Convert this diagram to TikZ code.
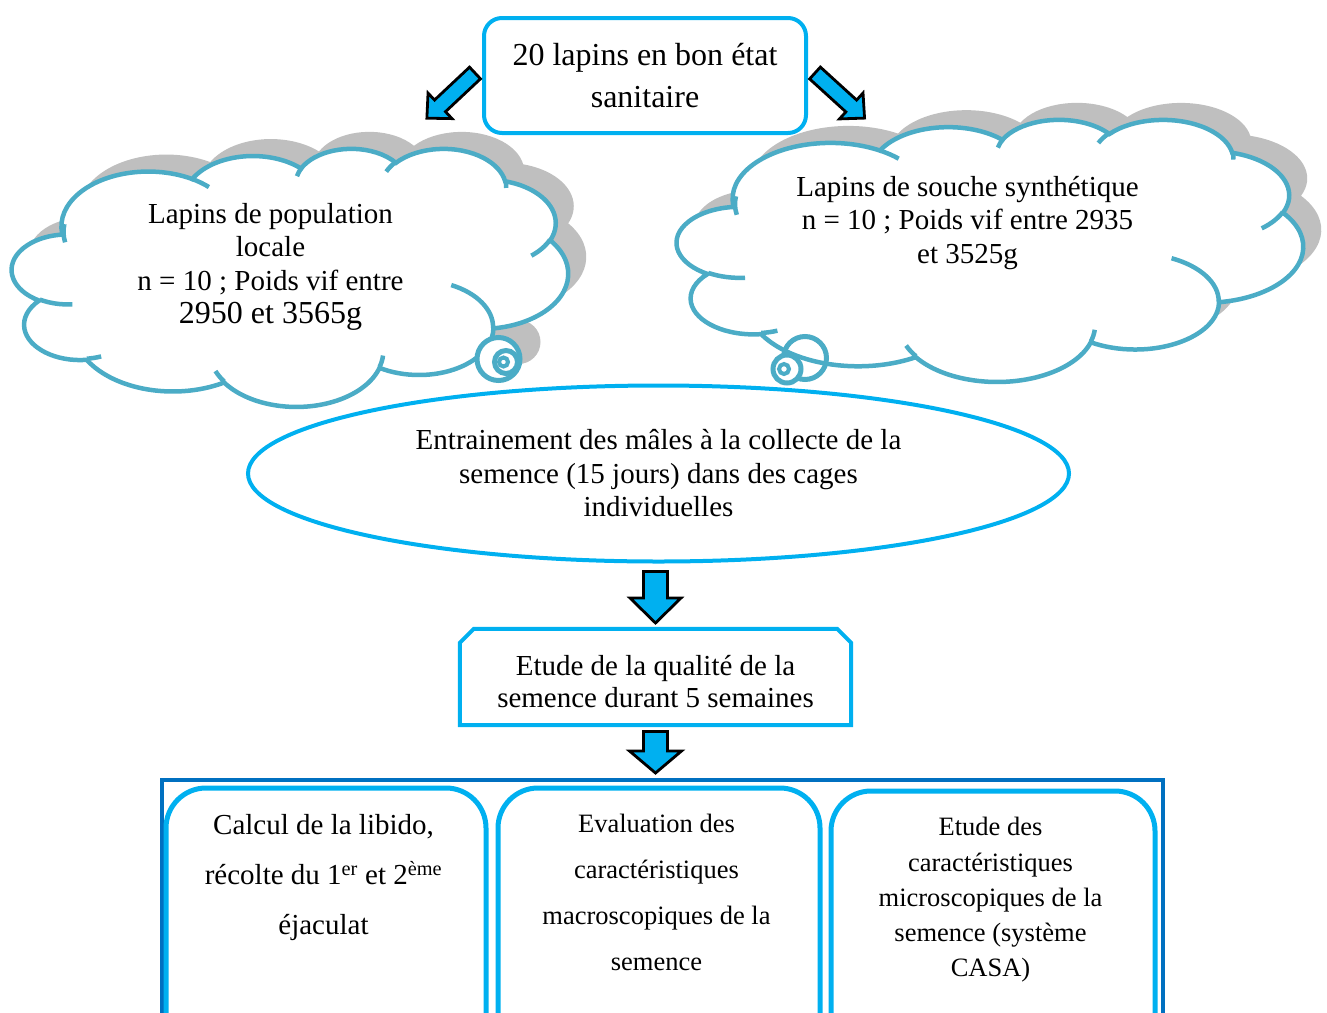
\documentclass[tikz,border=0pt]{standalone}
\usepackage{fontspec}
\setmainfont{Liberation Serif}
\usetikzlibrary{calc,shapes.geometric}
\definecolor{boxc}{HTML}{00B0F0}
\definecolor{cloudc}{HTML}{4BACC6}
\definecolor{dkblue}{HTML}{0070C0}
\definecolor{shadowc}{HTML}{BFBFBF}

% Word "cloud" outline, path space 4320 x 4320 (y down)
\newcommand\cloudmain[1]{%
\path[#1] (390,1437)
 arc[x radius=675.3, y radius=919.0, start angle={vang(-190.4875,675.3,919.0)}, end angle={vang(-66.7070,675.3,919.0)}]
 arc[x radius=533.3, y radius=726.7, start angle={vang(-144.1024,533.3,726.7)}, end angle={vang(-54.1572,533.3,726.7)}]
 arc[x radius=436.5, y radius=594.5, start angle={vang(-145.8079,436.5,594.5)}, end angle={vang(-46.0849,436.5,594.5)}]
 arc[x radius=485.7, y radius=659.5, start angle={vang(-130.9861,485.7,659.5)}, end angle={vang(-13.7444,485.7,659.5)}]
 arc[x radius=533.3, y radius=727.3, start angle={vang(-78.7089,533.3,727.3)}, end angle={vang(30.3180,533.3,727.3)}]
 arc[x radius=677.5, y radius=922.0, start angle={vang(-46.2673,677.5,922.0)}, end angle={vang(84.0017,677.5,922.0)}]
 arc[x radius=578.5, y radius=786.7, start angle={vang(0.6250,578.5,786.7)}, end angle={vang(114.6583,578.5,786.7)}]
 arc[x radius=675.2, y radius=921.5, start angle={vang(22.4516,675.2,921.5)}, end angle={vang(137.6242,675.2,921.5)}]
 arc[x radius=772.0, y radius=1054.3, start angle={vang(66.2426,772.0,1054.3)}, end angle={vang(141.9536,772.0,1054.3)}]
 arc[x radius=436.0, y radius=591.8, start angle={vang(-274.9421,436.0,591.8)}, end angle={vang(-128.2065,436.0,591.8)}]
 arc[x radius=434.5, y radius=594.5, start angle={vang(-246.8285,434.5,594.5)}, end angle={vang(-94.3096,434.5,594.5)}]
 -- cycle;}

\newcommand\cloudinner[1]{%
\path[#1]
 (469.3,2617.7) arc[x radius=434.5, y radius=594.5, start angle={vang(86.742,434.5,594.5)}, end angle={vang(113.1715,434.5,594.5)}]
 (692.8,3489.9) arc[x radius=436.0, y radius=591.8, start angle={vang(73.6105,436.0,591.8)}, end angle={vang(85.058,436.0,591.8)}]
 (1647.8,3909.0) arc[x radius=675.2, y radius=921.5, start angle={vang(137.6242,675.2,921.5)}, end angle={vang(151.7053,675.2,921.5)}]
 (2882.7,3475.1) arc[x radius=675.2, y radius=921.5, start angle={vang(6.4533,675.2,921.5)}, end angle={vang(22.4517,675.2,921.5)}]
 (3412.9,2295.4) arc[x radius=578.5, y radius=786.7, start angle={vang(-70.2924,578.5,786.7)}, end angle={vang(0.625,578.5,786.7)}]
 (4179.8,1535.4) arc[x radius=533.3, y radius=727.3, start angle={vang(30.318,533.3,727.3)}, end angle={vang(58.0695,533.3,727.3)}]
 (3832.4,542.6) arc[x radius=485.7, y radius=659.5, start angle={vang(-13.7443,485.7,659.5)}, end angle={vang(1.1146,485.7,659.5)}]
 (2907.8,395.2) arc[x radius=485.7, y radius=659.5, start angle={vang(-149.1815,485.7,659.5)}, end angle={vang(-130.9861,485.7,659.5)}]
 (2214.1,472.0) arc[x radius=436.5, y radius=594.5, start angle={vang(-163.4943,436.5,594.5)}, end angle={vang(-145.8079,436.5,594.5)}]
 (1400.0,519.2) arc[x radius=675.3, y radius=919.0, start angle={vang(-66.707,675.3,919.0)}, end angle={vang(-54.3876,675.3,919.0)}]
 (412.7,1578.9) arc[x radius=675.3, y radius=919.0, start angle={vang(165.0894,675.3,919.0)}, end angle={vang(190.7728,675.3,919.0)}];}

% block arrow: x y angle length shafthalf headhalf headlength
\newcommand\blockarrow[7]{%
\begin{scope}[shift={(#1,#2)},rotate=#3]
\draw[barrow] (0,-#5) -- ({#4-#7},-#5) -- ({#4-#7},-#6) -- (#4,0) -- ({#4-#7},#6) -- ({#4-#7},#5) -- (0,#5) -- cycle;
\end{scope}}

\begin{document}
\begin{tikzpicture}[x=1pt,y=-1pt,
  declare function={vang(\vt,\va,\vb)=\vt+(atan2(\va*sin(\vt),\vb*cos(\vt))-\vt)-360*round((atan2(\va*sin(\vt),\vb*cos(\vt))-\vt)/360);},
  cloudline/.style={draw=cloudc,line width=4.5pt},
  bubble/.style={draw=cloudc,line width=5pt},
  barrow/.style={fill=boxc,draw=black,line width=2.8pt,line join=miter},
  txt/.style={inner sep=0pt,align=center,text=black},
  ibox/.style={draw=boxc,line width=5pt,rounded corners=40pt,anchor=north west,inner sep=0pt}
]
\useasboundingbox (0,0) rectangle (1327,1012);
\clip (0,0) rectangle (1327,1012);

% ---- shadows
\begin{scope}[shift={(30,131)},x=0.128704pt,y=-0.059722pt]
  \cloudmain{fill=shadowc}
\end{scope}
\fill[shadowc] (518.5,342) circle[radius=22];
\begin{scope}[shift={(695,102)},x=0.144907pt,y=-0.060648pt]
  \cloudmain{fill=shadowc}
\end{scope}

% ---- left cloud
\begin{scope}[shift={(12,148)},x=0.128704pt,y=-0.059722pt]
  \cloudmain{fill=white,cloudline}
  \cloudinner{cloudline}
\end{scope}
\filldraw[fill=white,bubble] (498.5,359) circle[radius=21.5];
\filldraw[fill=white,bubble] (506,362) circle[radius=11.5];
\filldraw[fill=white,draw=cloudc,line width=4pt] (503.5,362) circle[radius=4.5];

% ---- right cloud
\begin{scope}[shift={(677,119)},x=0.144907pt,y=-0.060648pt]
  \cloudmain{fill=white,cloudline}
  \cloudinner{cloudline}
\end{scope}
\draw[bubble] (805,358) circle[radius=21.5];
\filldraw[fill=white,bubble] (787,369) circle[radius=14];
\filldraw[fill=white,draw=cloudc,line width=4pt] (784,369) circle[radius=5];

\node[txt,font=\fontsize{29}{33.5}\selectfont] (ltxt) at (270.5,267)
  {Lapins de population\\locale\\n = 10 ; Poids vif entre\\{\fontsize{32}{35}\selectfont 2950 et 3565g}};
\node[txt,font=\fontsize{29}{33.5}\selectfont] (rtxt) at (967.5,223)
  {Lapins de souche synthétique\\n = 10 ; Poids vif entre 2935\\et 3525g};

% ---- top box
\node[txt,draw=boxc,fill=white,line width=4pt,rounded corners=18pt,minimum width=322pt,minimum height=115pt,
      font=\fontsize{32}{42}\selectfont] (top) at (645,75.5) {20 lapins en bon état\\sanitaire};

% ---- diagonal arrows
\blockarrow{475}{73}{-136.8}{66}{8}{17.5}{18}
\blockarrow{815}{73}{-42.3}{67}{8}{17.5}{18}

% ---- ellipse
\node[ellipse,draw=boxc,line width=4pt,minimum width=821pt,minimum height=176pt,txt,
      font=\fontsize{29}{33.5}\selectfont] (train) at (658.5,473.5)
  {Entrainement des mâles à la collecte de la\\semence (15 jours) dans des cages\\individuelles};

\blockarrow{655.5}{571.5}{-90}{51.5}{12}{25.5}{25}

% ---- chamfered box
\node[inner sep=0pt,minimum width=391pt,minimum height=96pt] (etude) at (655.5,677) {};
\draw[draw=boxc,line width=4pt,line join=miter]
  (etude.south west) -- ($(etude.north west)+(0,14)$) -- ($(etude.north west)+(14,0)$)
  -- ($(etude.north east)+(-14,0)$) -- ($(etude.north east)+(0,14)$) -- (etude.south east) -- cycle;
\node[txt,font=\fontsize{29}{32}\selectfont] (etudetxt) at (655.5,681.5)
  {Etude de la qualité de la\\semence durant 5 semaines};

\blockarrow{655.5}{731.5}{-90}{41.5}{12}{26}{22}

% ---- bottom frame and boxes
\node[draw=dkblue,line width=4pt,minimum width=1001pt,minimum height=300pt,anchor=north west,inner sep=0pt] (frame) at (160,778) {};
\node[ibox,minimum width=320pt,minimum height=300pt] (b1) at (163.5,785.5) {};
\node[ibox,minimum width=322pt,minimum height=300pt] (b2) at (495.5,785.5) {};
\node[ibox,minimum width=324pt,minimum height=300pt] (b3) at (828.5,788.5) {};

\node[txt,font=\fontsize{29}{50}\selectfont] (t1) at (323.5,878)
  {Calcul de la libido,\\récolte du 1\textsuperscript{er} et 2\textsuperscript{ème}\\éjaculat};
\node[txt,font=\fontsize{26.5}{46}\selectfont] (t2) at (656.5,892)
  {Evaluation des\\caractéristiques\\macroscopiques de la\\semence};
\node[txt,font=\fontsize{26.5}{35.3}\selectfont] (t3) at (990.5,900)
  {Etude des\\caractéristiques\\microscopiques de la\\semence (système\\CASA)};
\end{tikzpicture}
\end{document}
